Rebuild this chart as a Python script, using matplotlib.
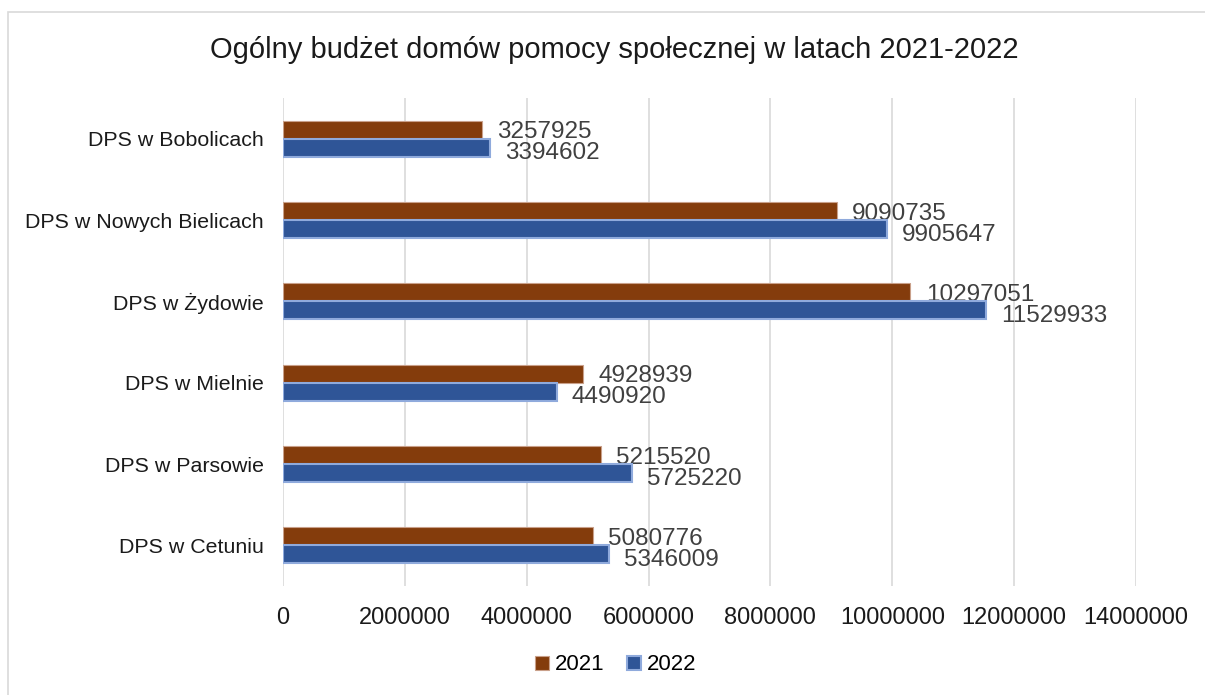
import matplotlib.pyplot as plt
import numpy as np
from matplotlib.patches import Rectangle

categories = ['DPS w Bobolicach', 'DPS w Nowych Bielicach', 'DPS w Żydowie',
              'DPS w Mielnie', 'DPS w Parsowie', 'DPS w Cetuniu']
budget_2021 = [3257925, 9090735, 10297051, 4928939, 5215520, 5080776]
budget_2022 = [3394602, 9905647, 11529933, 4490920, 5725220, 5346009]
xticks = [0, 2000000, 4000000, 6000000, 8000000, 10000000, 12000000, 14000000]

plt.rcParams['font.family'] = ['Liberation Sans', 'DejaVu Sans']

fig = plt.figure(figsize=(12.05, 6.95), dpi=100)
ax = fig.add_axes([283 / 1205, 1 - 586 / 695, (1136 - 283) / 1205, (586 - 98) / 695])

# outer chart frame
fig.patches.append(Rectangle((8 / 1205, -0.1), 1.2, 1 - 12 / 695 + 0.1,
                             transform=fig.transFigure, fill=False,
                             edgecolor='#D9D9D9', linewidth=1.2))

y = np.arange(len(categories))
h = 0.22
ax.barh(y - h / 2, budget_2021, height=h, color='#843C0C', edgecolor='#C9A08A',
        linewidth=0.8, label='2021', zorder=3)
ax.barh(y + h / 2, budget_2022, height=h, color='#2F5597', edgecolor='#8FAADC',
        linewidth=1.5, label='2022', zorder=3)

# value labels sit under the bars, like the original
for yi, v in zip(y, budget_2021):
    ax.annotate(str(v), (v, yi - h / 2), xytext=(11, -2), textcoords='offset points',
                va='center', ha='left', fontsize=17.5, color='#404040', zorder=2)
for yi, v in zip(y, budget_2022):
    ax.annotate(str(v), (v, yi + h / 2), xytext=(11, -4), textcoords='offset points',
                va='center', ha='left', fontsize=17.5, color='#404040', zorder=2)

ax.set_ylim(len(categories) - 0.5, -0.5)
ax.set_xlim(0, 14000000)
ax.set_yticks(y)
ax.set_yticklabels(categories, fontsize=15.4, color='#1a1a1a')
ax.set_xticks(xticks)
ax.set_xticklabels([str(t) for t in xticks], fontsize=17, color='#1a1a1a')
ax.tick_params(length=0, pad=14, axis='y')
ax.tick_params(length=0, pad=15, axis='x')
ax.grid(axis='x', color='#D9D9D9', linewidth=1.2, zorder=0)
for s in ax.spines.values():
    s.set_visible(False)

fig.text(614 / 1205, 1 - 50 / 695, 'Ogólny budżet domów pomocy społecznej w latach 2021-2022',
         ha='center', va='center', fontsize=21, color='#1a1a1a')

fig.legend(loc='center', bbox_to_anchor=(616 / 1205, 1 - 665 / 695), ncol=2, frameon=False,
           fontsize=16, handlelength=0.6, handleheight=0.6, handletextpad=0.3, columnspacing=1.0)

fig.savefig('out.png', dpi=100)
